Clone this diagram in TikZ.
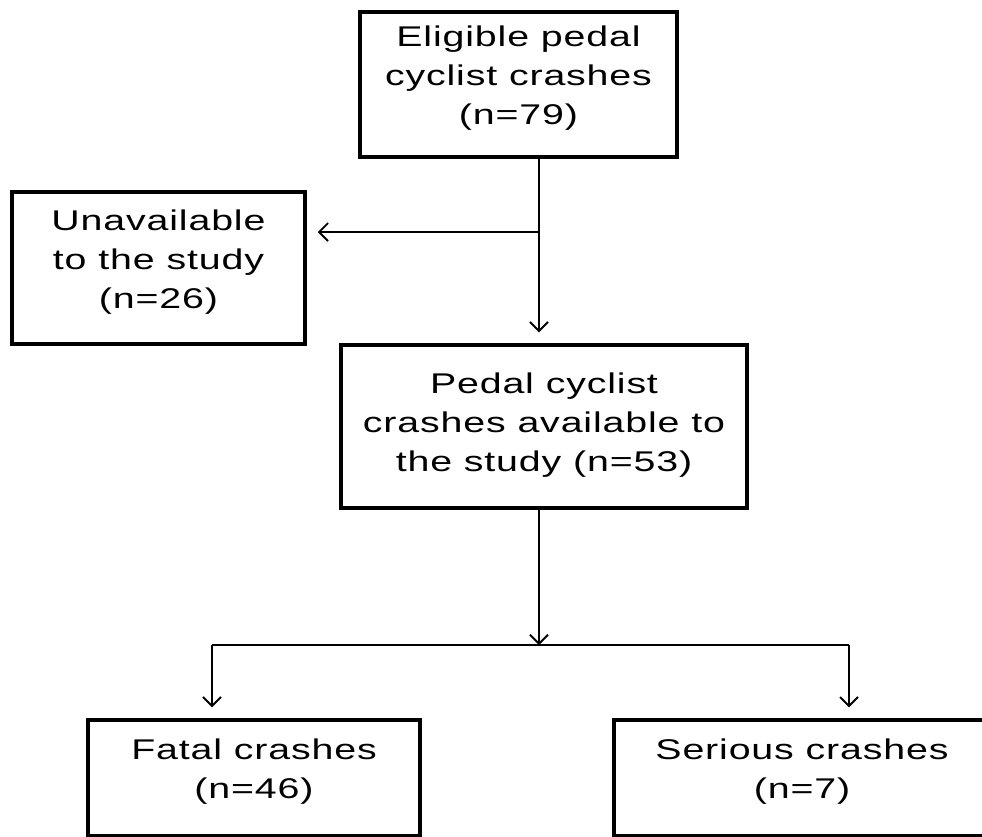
\documentclass[tikz,border=0pt]{standalone}
\usepackage{fontspec}
\setmainfont{Liberation Sans}[FakeStretch=1.38,LetterSpace=3]
\usetikzlibrary{arrows.meta}
\begin{document}
\begin{tikzpicture}[x=1pt,y=-1pt,
  box/.style={draw=black,line width=3.5pt,rectangle,inner sep=0pt},
  lbl/.style={align=center,inner sep=0pt,font=\fontsize{28.5}{39}\selectfont},
  conn/.style={draw=black,line width=1.8pt},
  arr/.style={conn,-{Straight Barb[length=9pt,width=18pt,line width=1.8pt]}},
  gap/.style={shorten >=11pt}]
\useasboundingbox (0,0) rectangle (982,836);
\clip (0,0) rectangle (982,836);
\fill[white] (0,0) rectangle (982,836);

% boxes
\node[box,minimum width=317pt,minimum height=145pt] (top) at (518.5,84.5) {};
\node[box,minimum width=293pt,minimum height=152pt] (unav) at (158.5,268) {};
\node[box,minimum width=406pt,minimum height=163pt] (mid) at (544,426.5) {};
\node[box,minimum width=332pt,minimum height=116pt] (fatal) at (254,778) {};
\node[box,minimum width=376pt,minimum height=116pt] (ser) at (802,778) {};

% texts
\node[lbl] (topt) at (518.5,78) {Eligible pedal\\cyclist crashes\\(n=79)};
\node[lbl] (unavt) at (158.5,262) {Unavailable\\to the study\\(n=26)};
\node[lbl] (midt) at (544,425) {Pedal cyclist\\crashes available to\\the study (n=53)};
\node[lbl] (fatalt) at (254,772) {Fatal crashes\\(n=46)};
\node[lbl] (sert) at (802,772) {Serious crashes\\(n=7)};

% junctions
\coordinate (j1) at (539,232);
\coordinate (j2) at (539,645);
\coordinate (bl) at (212,645);
\coordinate (br) at (849,645);

% connectors
\draw[conn] (top.south -| j1) -- (j1);
\draw[arr,gap] (j1) -- (mid.north -| j1);
\draw[arr,gap] (j1) -- (j1 -| unav.east);
\draw[arr] (mid.south -| j2) -- (j2);
\draw[conn] (bl) -- (br);
\draw[arr,gap] (bl) -- (bl |- fatal.north);
\draw[arr,gap] (br) -- (br |- ser.north);
\end{tikzpicture}
\end{document}
